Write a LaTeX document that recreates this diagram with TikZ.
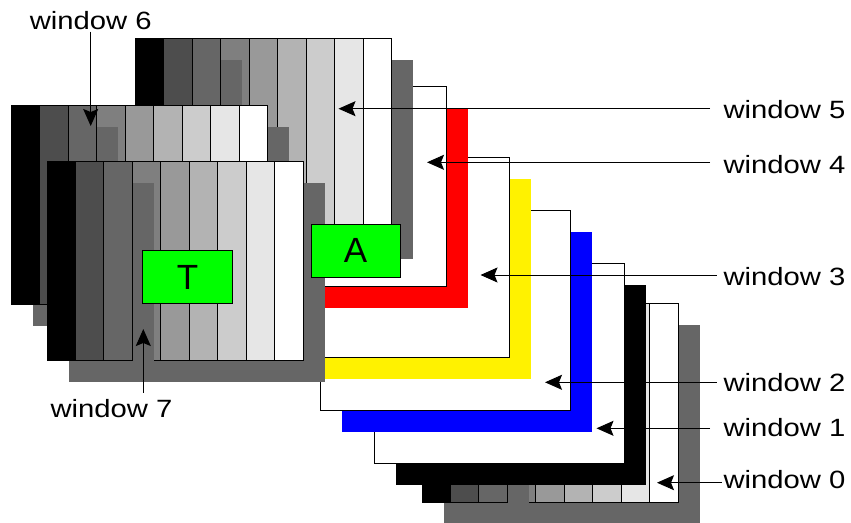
\documentclass[tikz,border=0pt]{standalone}
\usepackage{graphicx}
\usepackage{fontspec}
\setmainfont{Liberation Sans}
\usetikzlibrary{arrows.meta}
\definecolor{shd}{HTML}{666666}
\definecolor{gA}{HTML}{4D4D4D}
\definecolor{gB}{HTML}{666666}
\definecolor{gC}{HTML}{7F7F7F}
\definecolor{gD}{HTML}{999999}
\definecolor{gE}{HTML}{B3B3B3}
\definecolor{gF}{HTML}{CCCCCC}
\definecolor{gG}{HTML}{E6E6E6}
\definecolor{grn}{HTML}{00FF00}
\newcommand\Swin[2]{%
  \fill[shd] ({#1+21.5},{#2+21.5}) rectangle ++(256,199);
  \foreach \c [count=\i from 0] in {black,gA,gB,gC,gD,gE,gF,gG,white}{
    \filldraw[fill=\c,draw=black] ({#1+\i*256/9},#2) rectangle ++({256/9},199);}
  \fill[shd] ({#1+3*256/9+0.6},{#2+21.5}) rectangle ({#1+3*256/9+21.5},{#2+220.5});
}
\newcommand\Wwin[3]{%
  \fill[#3] ({#1+21.5},{#2+21.5}) rectangle ++(250,200);
  \filldraw[fill=white,draw=black] (#1,#2) rectangle ++(250,200);
}
\begin{document}
\begin{tikzpicture}[x=1pt,y=-1pt,line width=1pt,
  arr/.style={-{Stealth[length=17pt,width=15pt,inset=3pt]},line width=1pt},
  lbl/.style={font=\fontsize{25}{30}\selectfont,inner sep=0pt},
  box/.style={draw=black,fill=grn,line width=1pt,font=\fontsize{35}{40}\selectfont,inner sep=0pt}]
\useasboundingbox (0,0) rectangle (851,522);
% windows, back to front
\Swin{422}{303.5}
\Wwin{374.5}{263}{black}
\Wwin{320}{210.5}{blue}
\Wwin{259}{157}{yellow}
\Wwin{196}{86}{red}
\Swin{135.5}{38}
\Swin{11.5}{105}
\Swin{47}{161.5}
% green boxes
\node[box,minimum width=89.6pt,minimum height=52.6pt] (T) at (187.5,277) {T};
\node[box,minimum width=89pt,minimum height=53.3pt] (A) at (355.5,250.7) {A};
% labels
\node[lbl,anchor=base west] (L5) at (723,118.5) {\scalebox{1.17}[1]{window 5}};
\node[lbl,anchor=base west] (L4) at (723,173) {\scalebox{1.17}[1]{window 4}};
\node[lbl,anchor=base west] (L3) at (723,285) {\scalebox{1.17}[1]{window 3}};
\node[lbl,anchor=base west] (L2) at (723,391.7) {\scalebox{1.17}[1]{window 2}};
\node[lbl,anchor=base west] (L1) at (723,436.7) {\scalebox{1.17}[1]{window 1}};
\node[lbl,anchor=base west] (L0) at (723,488.3) {\scalebox{1.17}[1]{window 0}};
\node[lbl,anchor=base west] (L6) at (29.3,29.3) {\scalebox{1.17}[1]{window 6}};
\node[lbl,anchor=base west] (L7) at (50,417.7) {\scalebox{1.17}[1]{window 7}};
% connector ends
\coordinate (s5) at (710,108.7);   \coordinate (t5) at (338.5,108.7);
\coordinate (s4) at (710,162.3);   \coordinate (t4) at (427,162.3);
\coordinate (s3) at (716.7,275);   \coordinate (t3) at (480.5,275);
\coordinate (s2) at (716.7,382.3); \coordinate (t2) at (545,382.3);
\coordinate (s1) at (710,428.3);   \coordinate (t1) at (596.5,428.3);
\coordinate (s0) at (721.7,482.7); \coordinate (t0) at (657,482.7);
\coordinate (s6) at (90.7,31.7);   \coordinate (t6) at (90.7,126);
\coordinate (s7) at (143.3,392.7); \coordinate (t7) at (143.3,329);
\foreach \k in {0,...,7}{\draw[arr] (s\k) -- (t\k);}
\end{tikzpicture}
\end{document}
